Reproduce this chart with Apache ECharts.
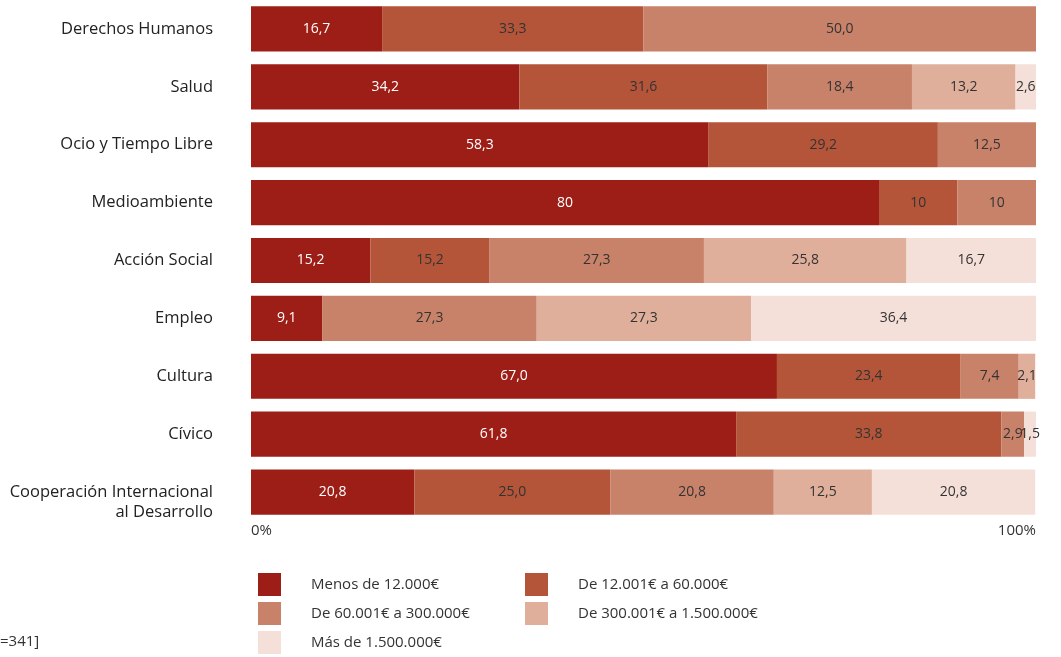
<!DOCTYPE html>
<html>
<head>
<meta charset="utf-8">
<script src="https://cdn.jsdelivr.net/npm/echarts@6/dist/echarts.min.js"></script>
<style>html,body{margin:0;padding:0;background:#fff}#c{width:1061px;height:657px}</style>
</head>
<body>
<div id="c"></div>
<script>
const categories = ['Derechos Humanos','Salud','Ocio y Tiempo Libre','Medioambiente','Acción Social','Empleo','Cultura','Cívico','Cooperación Internacional\nal Desarrollo'];
const seriesNames = ['Menos de 12.000€','De 12.001€ a 60.000€','De 60.001€ a 300.000€','De 300.001€ a 1.500.000€','Más de 1.500.000€'];
const s1 = ['16.7','34.2','58.3','80','15.2','9.1','67.0','61.8','20.8'];
const s2 = ['33.3','31.6','29.2','10','15.2',null,'23.4','33.8','25.0'];
const s3 = ['50.0','18.4','12.5','10','27.3','27.3','7.4','2.9','20.8'];
const s4 = [null,'13.2',null,null,'25.8','27.3','2.1',null,'12.5'];
const s5 = [null,'2.6',null,null,'16.7','36.4',null,'1.5','20.8'];
const allSeries = [s1,s2,s3,s4,s5];
const colors = ['#9d1e16','#b4553a','#c9826a','#dfaf9b','#f4e0d8'];
const axisTicks = ['0%','100%'];
const noteText = '=341]';
const font = 'Open Sans';

const chart = echarts.init(document.getElementById('c'));
chart.setOption({
  animation:false,
  textStyle:{fontFamily:font},
  grid:{left:251,right:25,top:0,height:521},
  xAxis:{type:'value',min:0,max:100,interval:100,
    axisLine:{show:false},axisTick:{show:false},splitLine:{show:false},
    axisLabel:{margin:2,fontSize:15,color:'#333',fontFamily:font,alignMinLabel:'left',alignMaxLabel:'right',
      formatter:(v)=> v===0?axisTicks[0]:axisTicks[1]}},
  yAxis:{type:'category',data:categories,inverse:true,
    axisLine:{show:false},axisTick:{show:false},
    axisLabel:{margin:38,fontSize:16.5,color:'#222',fontFamily:font,lineHeight:20,
      formatter:(v)=> v.indexOf('\n')>=0 ? ' \n'+v : v}},
  legend:[
    {data:[seriesNames[0],seriesNames[2],seriesNames[4]],orient:'vertical',left:258,top:573,padding:0,
     itemWidth:23,itemHeight:23,itemGap:6,icon:'rect',
     textStyle:{fontSize:15,color:'#333',fontFamily:font,padding:[0,0,0,25]}},
    {data:[seriesNames[1],seriesNames[3]],orient:'vertical',left:525,top:573,padding:0,
     itemWidth:23,itemHeight:23,itemGap:6,icon:'rect',
     textStyle:{fontSize:15,color:'#333',fontFamily:font,padding:[0,0,0,25]}}
  ],
  graphic:[{type:'text',left:0,top:634,style:{text:noteText,fontSize:15,fill:'#333',fontFamily:font}}],
  series: allSeries.map((arr,i)=>({
    name:seriesNames[i],type:'bar',stack:'total',barCategoryGap:'22%',
    data:arr,
    itemStyle:{color:colors[i]},
    label:{show:true,position:'inside',fontSize:14,fontFamily:font,
      color:i===0?'#fff':'#333',
      formatter:(p)=>{const r=allSeries[p.seriesIndex][p.dataIndex];return r==null?'':r.replace('.',',');}}
  }))
});
</script>
</body>
</html>
